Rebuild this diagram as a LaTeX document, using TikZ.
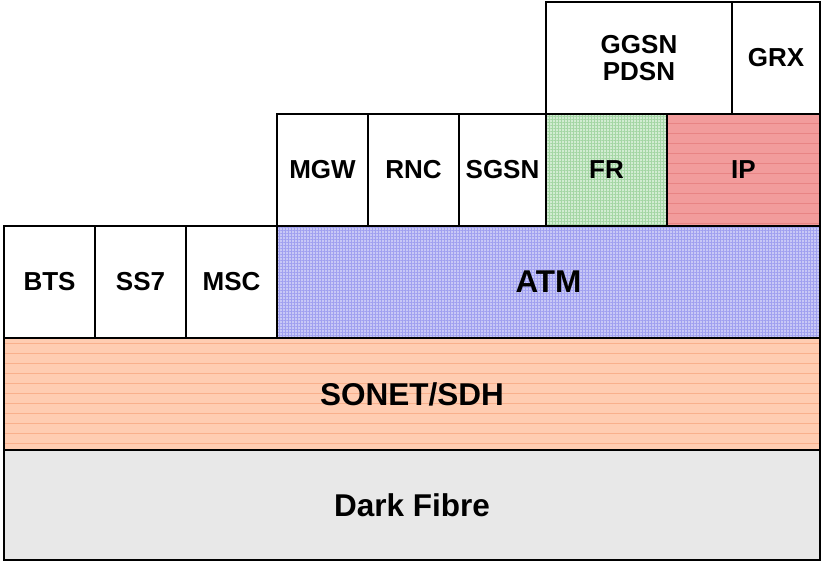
\documentclass[tikz,border=0pt]{standalone}
\usepackage{fontspec}
\setmainfont{Liberation Sans}
\usetikzlibrary{patterns.meta}
\definecolor{atmfill}{HTML}{C8C8F6}
\definecolor{atmline}{HTML}{A0A0F0}
\definecolor{frfill}{HTML}{D2ECD2}
\definecolor{frline}{HTML}{A4D6A4}
\definecolor{ipfill}{HTML}{F29C9C}
\definecolor{ipline}{HTML}{E88484}
\definecolor{sonetfill}{HTML}{FFCDB2}
\definecolor{sonetline}{HTML}{F9B08C}
\definecolor{darkfill}{HTML}{E8E8E8}
\begin{document}
\begin{tikzpicture}[x=1pt,y=-1pt,
  cell/.style={draw=black,line width=2.5pt,font=\bfseries\fontsize{26}{27}\selectfont,align=center},
  big/.style={font=\bfseries\fontsize{31.5}{33}\selectfont},
  atmgrid/.style={postaction={pattern={Lines[angle=0,distance=3pt,line width=0.6pt]},pattern color=atmline},
                  postaction={pattern={Lines[angle=90,distance=3pt,line width=0.6pt]},pattern color=atmline}},
  frgrid/.style={postaction={pattern={Lines[angle=0,distance=3pt,line width=0.6pt]},pattern color=frline},
                  postaction={pattern={Lines[angle=90,distance=3pt,line width=0.6pt]},pattern color=frline}},
  iplines/.style={postaction={pattern={Lines[angle=0,distance=10pt,line width=0.6pt]},pattern color=ipline}},
  sonetlines/.style={postaction={pattern={Lines[angle=0,distance=10pt,line width=0.8pt]},pattern color=sonetline}}
]
\useasboundingbox (0,0) rectangle (823,563);
% bottom layers
\path[fill=darkfill] (4,450) rectangle (820,560);
\draw[line width=2.5pt] (4,450) rectangle (820,560);
\node[big] (df) at (412,505) {Dark Fibre};
\path[fill=sonetfill,sonetlines] (4,338) rectangle (820,450);
\draw[line width=2.5pt] (4,338) rectangle (820,450);
\node[big] (sonet) at (412,394) {SONET/SDH};
% ATM row
\path[fill=atmfill,atmgrid] (277,226) rectangle (820,338);
\draw[line width=2.5pt] (277,226) rectangle (820,338);
\node[big] (atm) at (548.5,282) {ATM};
\node[cell,minimum width=91pt,minimum height=112pt] (bts) at (49.5,282) {BTS};
\node[cell,minimum width=91pt,minimum height=112pt] (ss7) at (140.5,282) {SS7};
\node[cell,minimum width=91pt,minimum height=112pt] (msc) at (231.5,282) {MSC};
% second row
\node[cell,minimum width=91pt,minimum height=112pt] (mgw) at (322.5,170) {MGW};
\node[cell,minimum width=91pt,minimum height=112pt] (rnc) at (413.5,170) {RNC};
\node[cell,minimum width=87pt,minimum height=112pt] (sgsn) at (502.5,170) {SGSN};
\path[fill=frfill,frgrid] (546,114) rectangle (667,226);
\draw[line width=2.5pt] (546,114) rectangle (667,226);
\node[cell,draw=none] (fr) at (606.5,170) {FR};
\path[fill=ipfill,iplines] (667,114) rectangle (820,226);
\draw[line width=2.5pt] (667,114) rectangle (820,226);
\node[cell,draw=none] (ip) at (743.5,170) {IP};
% top row
\node[cell,minimum width=186pt,minimum height=112pt] (ggsn) at (639,58) {GGSN\\PDSN};
\node[cell,minimum width=88pt,minimum height=112pt] (grx) at (776,58) {GRX};
\end{tikzpicture}
\end{document}
